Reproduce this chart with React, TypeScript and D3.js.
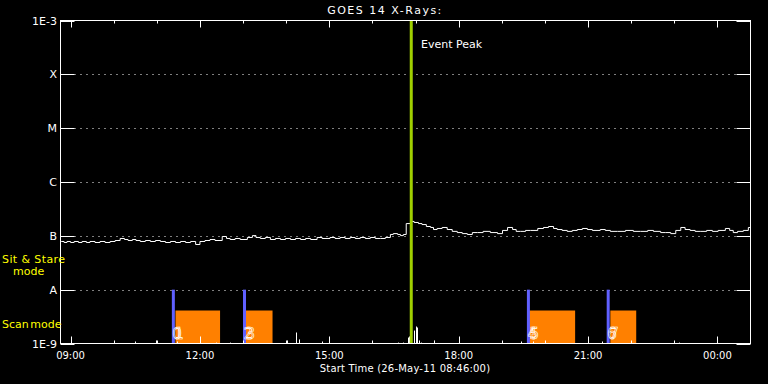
import React from "react";
import * as d3 from "d3";

// ---- data ----
const startLabel = "26-May-11 08:46:00";
const durationMin = 960; // minutes shown after start
// long channel (1-8 Å): minutes after start, flux in units of 1e-8 W/m^2
const longT = [1,5,9,14,19,25,30,36,41,48,55,62,69,76,83,89,94,100,105,111,118,125,132,139,146,153,160,167,174,181,188,194,201,208,215,225,231,236,243,250,260,267,272,278,285,292,299,306,313,320,327,334,341,348,357,364,375,382,389,396,403,410,417,424,431,438,445,452,459,463,469,473,477,481,487,492,498,503,509,515,519,524,531,538,545,552,559,566,573,580,588,598,608,615,622,629,634,640,647,654,664,672,679,686,691,698,705,712,719,726,733,740,751,758,765,775,786,797,807,817,825,835,842,849,856,863,869,876,883,890,899,907,915,925,931,936,942,950,957,960];
const longF = [7.85,7.52,7.85,7.52,7.85,7.52,7.85,7.52,7.85,7.52,7.85,7.52,7.85,8.19,8.93,8.55,8.19,8.55,8.19,7.85,8.19,7.85,8.19,7.85,7.52,7.85,7.52,7.85,7.52,7.85,6.90,7.85,8.19,8.55,8.19,9.72,8.93,8.55,8.93,8.55,9.32,10.1,9.32,8.93,9.32,8.55,8.93,8.55,8.93,8.55,8.93,8.55,8.93,8.55,9.32,8.93,9.32,8.93,9.32,8.93,9.32,8.93,9.32,8.93,9.32,8.93,8.93,9.32,10.6,11.0,10.6,10.1,10.6,16.9,18.5,17.7,16.9,16.2,14.9,14.3,13.1,13.7,14.3,13.1,12.1,11.5,11.0,10.6,11.5,11.5,12.1,11.5,11.0,12.6,14.3,13.1,12.1,12.1,12.6,12.6,13.7,14.3,14.9,13.7,13.1,12.6,12.1,12.6,13.1,13.7,13.1,12.6,13.1,12.6,12.1,12.1,12.6,12.1,12.1,12.6,12.1,11.5,11.5,11.0,12.6,14.3,13.1,12.6,12.1,12.1,12.6,12.1,12.6,13.7,12.6,11.5,12.1,12.6,14.3,13.7];
// short channel (0.5-4 Å): only the spikes that rise above 1E-9
const shortT = [103,133,162,217,236,315,327,328,332,364,469,476,483,485,486,492,495,496,499,501,519,641,658,754,861];
const shortF = [1.09,1.14,1.09,1.04,1.04,1.14,1.24,1.60,1.19,1.09,1.04,1.04,1.29,1.35,2.25,1.74,2.07,1.98,1.14,1.04,1.14,1.09,1.09,1.09,1.04]; // units 1e-9
const eventPeakMin = 488;
// scans: start line, orange band start/end (minutes), labels
const scanLine = [157, 256, 651, 762];
const scanStart = [160, 257, 652, 765];
const scanEnd = [222, 295, 716, 801];
const scanLabels = [["0", "1"], ["2", "3"], ["4", "5"], ["6", "7"]];
const scanTopFlux = 4.1e-9;
const modeTopFlux = 1e-8;
const yTickVals = [1e-9, 1e-8, 1e-7, 1e-6, 1e-5, 1e-4, 1e-3];
const yTickLabels = ["1E-9", "A", "B", "C", "M", "X", "1E-3"];

const W = 768, H = 384;
const L = 60.5, R = 750.5, T = 20.5, B = 343.5;
const FONT = "DejaVu Sans";

export default function App() {
  const t0 = new Date(2011, 4, 26, 8, 46, 0);
  const tm = (m: number) => new Date(t0.getTime() + m * 60000);
  const x = d3.scaleTime().domain([t0, tm(durationMin)]).range([L, R]);
  const y = d3.scaleLog().domain([1e-9, 1e-3]).range([B, T]);
  const majorTicks = x.ticks(d3.timeHour.every(3)!);
  const minorTicks = x.ticks(d3.timeHour.every(1)!);
  const fmt = d3.timeFormat("%H:%M");
  const line = d3
    .line<number>()
    .x((_, i) => x(tm(longT[i])))
    .y((d) => y(d * 1e-8))
    .curve(d3.curveStepAfter);
  const longPath = line(longF) || "";

  return (
    <svg
      width={W}
      height={H}
      style={{ position: "absolute", left: 0, top: 0, background: "#000" }}
      fontFamily={FONT}
    >
      <rect x={0} y={0} width={W} height={H} fill="#000" />
      <defs>
        <clipPath id="plot">
          <rect x={L} y={T} width={R - L} height={B - T} />
        </clipPath>
      </defs>
      <text x={385} y={14} fill="#fff" fontSize={11} textAnchor="middle" letterSpacing={1.5}>
        GOES 14 X-Rays:
      </text>

      {/* gridlines */}
      {yTickVals.slice(1, -1).map((v) => (
        <line
          key={"g" + v}
          x1={L + 14}
          x2={R - 14}
          y1={Math.round(y(v)) + 0.5}
          y2={Math.round(y(v)) + 0.5}
          stroke="#fff"
          strokeDasharray="1,5"
        />
      ))}

      {/* scan bands */}
      {scanStart.map((s, i) => (
        <rect
          key={"o" + i}
          x={x(tm(s))}
          y={y(scanTopFlux)}
          width={x(tm(scanEnd[i])) - x(tm(s))}
          height={B - y(scanTopFlux)}
          fill="#ff8000"
        />
      ))}
      {scanLine.map((s, i) => (
        <line
          key={"b" + i}
          x1={x(tm(s))}
          x2={x(tm(s))}
          y1={y(modeTopFlux)}
          y2={B}
          stroke="#6060ff"
          strokeWidth={3}
        />
      ))}

      <g clipPath="url(#plot)">
        <path d={longPath} fill="none" stroke="#fff" strokeWidth={1} />
        {shortT.map((t, i) => (
          <line
            key={"s" + i}
            x1={Math.round(x(tm(t))) + 0.5}
            x2={Math.round(x(tm(t))) + 0.5}
            y1={B}
            y2={y(shortF[i] * 1e-9)}
            stroke="#fff"
            strokeWidth={1}
          />
        ))}
      </g>

      {scanLine.map((s, i) =>
        scanLabels[i].map((lab, j) => (
          <text
            key={"l" + i + j}
            x={x(tm(s)) - 1 + j * 2}
            y={339}
            fontSize={15}
            fill="none"
            stroke="#fff"
            strokeWidth={0.6}
          >
            {lab}
          </text>
        ))
      )}

      {/* event peak */}
      <line
        x1={x(tm(eventPeakMin))}
        x2={x(tm(eventPeakMin))}
        y1={T}
        y2={B}
        stroke="#a0d000"
        strokeWidth={3}
      />
      <text x={421} y={48} fill="#fff" fontSize={11}>
        Event Peak
      </text>

      {/* frame */}
      <rect x={L} y={T} width={R - L} height={B - T} fill="none" stroke="#fff" />

      {/* y ticks */}
      {yTickVals.map((v, i) => {
        const yy = Math.round(y(v)) + 0.5;
        return (
          <g key={"y" + v}>
            <line x1={L} x2={L + 14} y1={yy} y2={yy} stroke="#fff" />
            <line x1={R - 14} x2={R} y1={yy} y2={yy} stroke="#fff" />
            <text
              x={57}
              y={yy}
              dy="0.35em"
              fill="#fff"
              fontSize={11}
              textAnchor="end"
            >
              {yTickLabels[i]}
            </text>
          </g>
        );
      })}

      {/* x ticks */}
      {minorTicks.map((d) => {
        const xx = Math.round(x(d)) + 0.5;
        const major = d.getHours() % 3 === 0;
        const len = major ? 7 : 3;
        return (
          <g key={"x" + d.getTime()}>
            <line x1={xx} x2={xx} y1={B} y2={B - len} stroke="#fff" />
            <line x1={xx} x2={xx} y1={T} y2={T + len} stroke="#fff" />
          </g>
        );
      })}
      {majorTicks.map((d) => (
        <text
          key={"xl" + d.getTime()}
          x={x(d)}
          y={359}
          fill="#fff"
          fontSize={10}
          textAnchor="middle"
        >
          {fmt(d)}
        </text>
      ))}
      <text x={405} y={372} fill="#fff" fontSize={10} textAnchor="middle" letterSpacing={0.2}>
        {`Start Time (${startLabel})`}
      </text>

      {/* mode labels */}
      <text x={2} y={263} fill="#ffff00" fontSize={11} letterSpacing={0.4}>
        Sit &amp; Stare
      </text>
      <text x={13} y={275} fill="#ffff00" fontSize={11}>
        mode
      </text>
      <text x={2} y={328} fill="#ffff00" fontSize={11} wordSpacing={-2}>
        Scan mode
      </text>
    </svg>
  );
}
